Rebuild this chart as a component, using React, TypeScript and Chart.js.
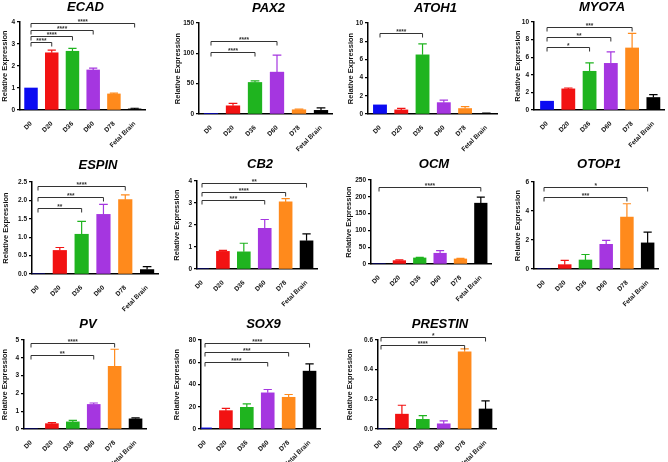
import React, { useEffect, useRef } from 'react';
import { Chart, registerables } from 'chart.js';

Chart.register(...registerables);

const categories = ['D0', 'D20', 'D36', 'D60', 'D78', 'Fetal Brain'];
const barColors = ['#0B0BF2', '#F21212', '#1FB41F', '#A536E0', '#FF8A1C', '#000000'];

// Means and SEM (upper error) per gene
const ecadMeans = [1.0, 2.6, 2.67, 1.82, 0.73, 0.05];
const ecadErrors = [0, 0.12, 0.13, 0.08, 0.04, 0.03];
const pax2Means = [1, 13.5, 52, 69, 7, 6];
const pax2Errors = [0, 4, 2.5, 28, 1.2, 4];
const atoh1Means = [1.0, 0.45, 6.5, 1.25, 0.6, 0.05];
const atoh1Errors = [0, 0.17, 1.2, 0.28, 0.22, 0.04];
const myo7aMeans = [1.0, 2.4, 4.4, 5.3, 7.05, 1.42];
const myo7aErrors = [0, 0.1, 0.95, 1.3, 1.65, 0.33];
const espinMeans = [0, 0.64, 1.08, 1.62, 2.02, 0.12];
const espinErrors = [0, 0.08, 0.35, 0.27, 0.13, 0.08];
const cb2Means = [0, 0.8, 0.78, 1.85, 3.05, 1.28];
const cb2Errors = [0, 0.05, 0.39, 0.4, 0.15, 0.32];
const ocmMeans = [0, 10, 18, 32, 15, 181];
const ocmErrors = [0, 2, 2, 8, 2, 18];
const otop1Means = [0, 0.3, 0.62, 1.7, 3.58, 1.8];
const otop1Errors = [0, 0.3, 0.38, 0.27, 0.92, 0.75];
const pvMeans = [0, 0.3, 0.4, 1.38, 3.52, 0.57];
const pvErrors = [0, 0.06, 0.08, 0.08, 0.96, 0.06];
const sox9Means = [1, 16.5, 19.5, 32.5, 28.5, 52];
const sox9Errors = [0, 2, 3, 3, 2.5, 6.5];
const prestinMeans = [0, 0.1, 0.065, 0.035, 0.52, 0.135];
const prestinErrors = [0, 0.06, 0.025, 0.02, 0.02, 0.055];

// Significance brackets (from D0 to category index "to", at y value "level")
const ecadBrackets = [
  { to: 1, level: 3.1, label: '****' },
  { to: 2, level: 3.35, label: '****' },
  { to: 3, level: 3.62, label: '****' },
  { to: 5, level: 3.97, label: '****' },
];
const pax2Brackets = [
  { to: 2, level: 103, label: '****' },
  { to: 3, level: 120, label: '****' },
];
const atoh1Brackets = [{ to: 2, level: 8.85, label: '****' }];
const myo7aBrackets = [
  { to: 2, level: 7.2, label: '*' },
  { to: 3, level: 8.33, label: '**' },
  { to: 4, level: 9.47, label: '***' },
];
const espinBrackets = [
  { to: 2, level: 1.78, label: '**' },
  { to: 3, level: 2.1, label: '***' },
  { to: 4, level: 2.4, label: '****' },
];
const cb2Brackets = [
  { to: 3, level: 3.12, label: '***' },
  { to: 4, level: 3.48, label: '****' },
  { to: 5, level: 3.9, label: '**' },
];
const ocmBrackets = [{ to: 5, level: 228, label: '****' }];
const otop1Brackets = [
  { to: 4, level: 5.0, label: '***' },
  { to: 5, level: 5.63, label: '*' },
];
const pvBrackets = [
  { to: 3, level: 4.14, label: '**' },
  { to: 4, level: 4.85, label: '****' },
];
const sox9Brackets = [
  { to: 3, level: 60.5, label: '****' },
  { to: 4, level: 69.2, label: '***' },
  { to: 5, level: 77.6, label: '****' },
];
const prestinBrackets = [
  { to: 4, level: 0.566, label: '****' },
  { to: 5, level: 0.623, label: '*' },
];

type Bracket = { to: number; level: number; label: string };
type Panel = {
  gene: string;
  means: number[];
  errors: number[];
  brackets: Bracket[];
  yMax: number;
  yStep: number;
  decimals: number;
  axisX: number;
  c0: number;
  s: number;
  topY: number;
  zeroY: number;
  titleY: number;
  yTitleOff: number;
};

const panels: Panel[] = [
  { gene: 'ECAD', means: ecadMeans, errors: ecadErrors, brackets: ecadBrackets, yMax: 4, yStep: 1, decimals: 0, axisX: 20, c0: 31, s: 20.7, topY: 22, zeroY: 110, titleY: 7, yTitleOff: 15 },
  { gene: 'PAX2', means: pax2Means, errors: pax2Errors, brackets: pax2Brackets, yMax: 150, yStep: 50, decimals: 0, axisX: 199, c0: 211, s: 22, topY: 23, zeroY: 114, titleY: 8, yTitleOff: 21 },
  { gene: 'ATOH1', means: atoh1Means, errors: atoh1Errors, brackets: atoh1Brackets, yMax: 10, yStep: 2, decimals: 0, axisX: 368, c0: 380, s: 21.3, topY: 23, zeroY: 114, titleY: 8, yTitleOff: 17 },
  { gene: 'MYO7A', means: myo7aMeans, errors: myo7aErrors, brackets: myo7aBrackets, yMax: 10, yStep: 2, decimals: 0, axisX: 534, c0: 547, s: 21.2, topY: 22, zeroY: 110, titleY: 7, yTitleOff: 16 },
  { gene: 'ESPIN', means: espinMeans, errors: espinErrors, brackets: espinBrackets, yMax: 2.5, yStep: 0.5, decimals: 1, axisX: 32, c0: 38, s: 21.8, topY: 182, zeroY: 274, titleY: 165, yTitleOff: 26 },
  { gene: 'CB2', means: cb2Means, errors: cb2Errors, brackets: cb2Brackets, yMax: 4, yStep: 1, decimals: 0, axisX: 197, c0: 202, s: 20.9, topY: 181, zeroY: 269, titleY: 164, yTitleOff: 20 },
  { gene: 'OCM', means: ocmMeans, errors: ocmErrors, brackets: ocmBrackets, yMax: 250, yStep: 50, decimals: 0, axisX: 371, c0: 379, s: 20.3, topY: 180, zeroY: 264, titleY: 164, yTitleOff: 22 },
  { gene: 'OTOP1', means: otop1Means, errors: otop1Errors, brackets: otop1Brackets, yMax: 6, yStep: 2, decimals: 0, axisX: 534, c0: 544, s: 20.7, topY: 182, zeroY: 269, titleY: 164, yTitleOff: 16 },
  { gene: 'PV', means: pvMeans, errors: pvErrors, brackets: pvBrackets, yMax: 5, yStep: 1, decimals: 0, axisX: 24, c0: 31, s: 20.9, topY: 340, zeroY: 429, titleY: 324, yTitleOff: 19 },
  { gene: 'SOX9', means: sox9Means, errors: sox9Errors, brackets: sox9Brackets, yMax: 80, yStep: 20, decimals: 0, axisX: 201, c0: 205, s: 20.9, topY: 340, zeroY: 429, titleY: 324, yTitleOff: 24 },
  { gene: 'PRESTIN', means: prestinMeans, errors: prestinErrors, brackets: prestinBrackets, yMax: 0.6, yStep: 0.2, decimals: 1, axisX: 378, c0: 381, s: 20.9, topY: 340, zeroY: 429, titleY: 324, yTitleOff: 28 },
];

const FAMILY = '"Liberation Sans", Arial, sans-serif';
const PADL = 45;
const PADT = 40;
const PADR = 8;
const PADB = 50;
const X_MAX = 5.5;

function GenePanel({ p }: { p: Panel }) {
  const ref = useRef<HTMLCanvasElement>(null);
  const xMin = -(p.c0 - p.axisX) / p.s;
  const plotW = Math.round((X_MAX - xMin) * p.s);
  const plotH = p.zeroY - p.topY;
  const W = PADL + plotW + PADR;
  const H = PADT + plotH + PADB;
  const canvasTop = p.topY - PADT;

  useEffect(() => {
    if (!ref.current) return;
    const decor = {
      id: 'decor' + p.gene,
      afterDraw(chart: any) {
        const ctx = chart.ctx as CanvasRenderingContext2D;
        const area = chart.chartArea;
        const xs = chart.scales.x;
        const ys = chart.scales.y;
        const meta = chart.getDatasetMeta(0);
        ctx.save();
        // error bars
        meta.data.forEach((el: any, i: number) => {
          const e = p.errors[i];
          if (!e) return;
          const x = el.x;
          const y1 = ys.getPixelForValue(p.means[i]);
          const y2 = ys.getPixelForValue(p.means[i] + e);
          const cap = el.width * 0.32;
          ctx.strokeStyle = barColors[i];
          ctx.lineWidth = 1.2;
          ctx.beginPath();
          ctx.moveTo(x, y1);
          ctx.lineTo(x, y2);
          ctx.moveTo(x - cap, y2);
          ctx.lineTo(x + cap, y2);
          ctx.stroke();
        });
        // brackets
        ctx.strokeStyle = '#333';
        ctx.fillStyle = '#333';
        ctx.lineWidth = 1;
        p.brackets.forEach((b) => {
          const x0 = xs.getPixelForValue(0);
          const x1 = xs.getPixelForValue(b.to);
          const y = Math.round(ys.getPixelForValue(b.level)) + 0.5;
          ctx.beginPath();
          ctx.moveTo(x0, y + 4);
          ctx.lineTo(x0, y);
          ctx.lineTo(x1, y);
          ctx.lineTo(x1, y + 4);
          ctx.stroke();
          ctx.font = `bold 6.5px ${FAMILY}`;
          ctx.textAlign = 'center';
          ctx.textBaseline = 'bottom';
          ctx.fillText(b.label, (x0 + x1) / 2, y + 1.5);
        });
        // title
        ctx.fillStyle = '#000';
        ctx.font = `italic bold 13px ${FAMILY}`;
        ctx.textAlign = 'center';
        ctx.textBaseline = 'middle';
        ctx.fillText(p.gene, (area.left + area.right) / 2 + 3, p.titleY - canvasTop);
        // y-axis title
        ctx.translate(area.left - p.yTitleOff, (area.top + area.bottom) / 2);
        ctx.rotate(-Math.PI / 2);
        ctx.font = `bold 7.5px ${FAMILY}`;
        ctx.fillStyle = '#111';
        ctx.fillText('Relative Expression', 0, 0);
        ctx.restore();
      },
    };

    const chart = new Chart(ref.current, {
      type: 'bar',
      data: {
        datasets: [
          {
            data: p.means.map((v, i) => ({ x: i, y: v })) as any,
            backgroundColor: barColors,
            borderWidth: 0,
            barThickness: p.s * 0.62,
          },
        ],
      },
      options: {
        responsive: false,
        animation: false,
        devicePixelRatio: 1,
        layout: { padding: { left: 0, top: PADT, right: PADR, bottom: 0 } },
        plugins: {
          legend: { display: false },
          tooltip: { enabled: false },
          title: { display: false },
        },
        scales: {
          x: {
            type: 'linear',
            min: xMin,
            max: X_MAX,
            offset: false,
            afterFit: (sc: any) => {
              sc.height = PADB;
            },
            afterBuildTicks: (sc: any) => {
              sc.ticks = categories.map((_, i) => ({ value: i }));
            },
            ticks: {
              autoSkip: false,
              minRotation: 45,
              maxRotation: 45,
              padding: 2,
              color: '#111',
              font: { family: FAMILY, size: 6.5, weight: 'bold' },
              callback: (v: any) => categories[v as number] ?? '',
            },
            grid: { display: false },
            border: { display: true, color: '#000', width: 1.5 },
          },
          y: {
            min: 0,
            max: p.yMax,
            afterFit: (sc: any) => {
              sc.width = PADL;
            },
            ticks: {
              stepSize: p.yStep,
              padding: 2,
              color: '#111',
              font: { family: FAMILY, size: 6.5, weight: 'bold' },
              callback: (v: any) => Number(v).toFixed(p.decimals),
            },
            grid: {
              display: true,
              drawOnChartArea: false,
              drawTicks: true,
              tickLength: 3,
              color: '#000',
              lineWidth: 1.2,
            },
            border: { display: true, color: '#000', width: 1.5 },
          },
        },
      } as any,
      plugins: [decor],
    });
    return () => chart.destroy();
  }, []);

  return (
    <canvas
      ref={ref}
      width={W}
      height={H}
      style={{ position: 'absolute', left: p.axisX - PADL, top: canvasTop, width: W, height: H }}
    />
  );
}

export default function App() {
  return (
    <div
      style={{
        position: 'fixed',
        left: 0,
        top: 0,
        width: 668,
        height: 462,
        background: '#fff',
        overflow: 'hidden',
      }}
    >
      {panels.map((p) => (
        <GenePanel key={p.gene} p={p} />
      ))}
    </div>
  );
}
